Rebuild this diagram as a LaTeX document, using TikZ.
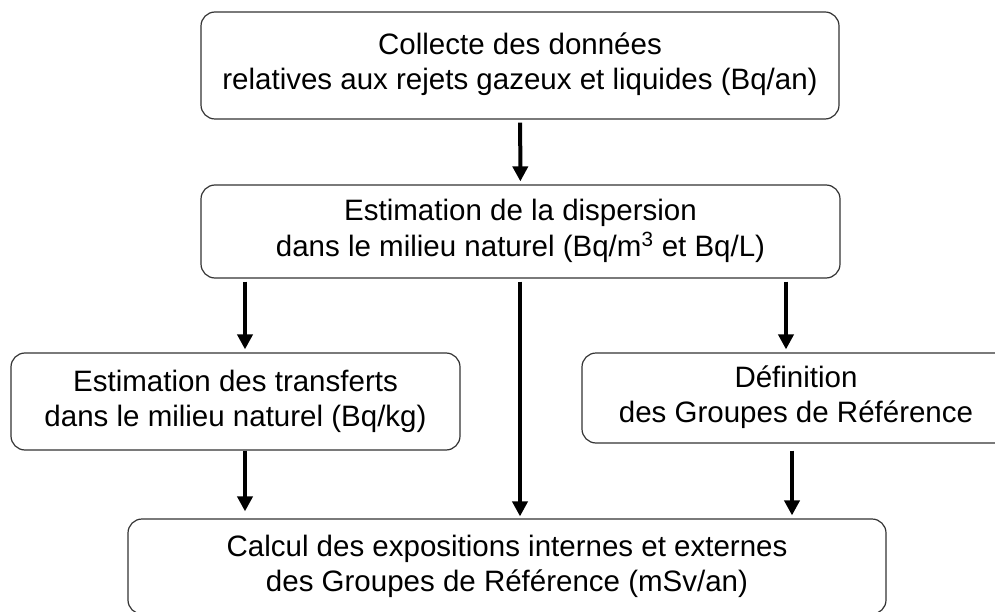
\documentclass[tikz,border=0pt]{standalone}
\usepackage{fontspec}
\setmainfont{Liberation Sans}
\usetikzlibrary{arrows.meta}
\tikzstyle{every node}=[font=\fontsize{29.5}{35}\selectfont]
\tikzstyle{box}=[draw=black!80,line width=1.2pt,rounded corners=14pt,inner sep=0pt]
\tikzstyle{arr}=[line width=4pt,-{Triangle[width=15pt,length=15pt]},shorten <=3pt,shorten >=3pt]
\newcommand{\lignes}[2]{\begin{tabular}{@{}c@{}}#1\end{tabular}\hspace{#2}}

\begin{document}
\begin{tikzpicture}[x=1pt,y=-1pt]
  \useasboundingbox (0,0) rectangle (995,612);
  \clip (0,0) rectangle (995,612);
  \node[box,minimum width=638pt,minimum height=107pt] (collecte) at (520,65.5)
    {\lignes{Collecte des données\\relatives aux rejets gazeux et liquides (Bq/an)}{10pt}};
  \node[box,minimum width=639pt,minimum height=93pt] (dispersion) at (520.5,231.5)
    {\lignes{Estimation de la dispersion\\dans le milieu naturel (Bq/m\textsuperscript{3} et Bq/L)}{12pt}};
  \node[box,minimum width=449pt,minimum height=97pt] (transferts) at (235.5,401.5)
    {\lignes{Estimation des transferts\\dans le milieu naturel (Bq/kg)}{17pt}};
  \node[box,minimum width=428pt,minimum height=90pt] (groupes) at (796,398)
    {\lignes{Définition\\des Groupes de Référence}{20pt}};
  \node[box,minimum width=758pt,minimum height=95pt] (calcul) at (507,566.5)
    {\lignes{Calcul des expositions internes et externes\\des Groupes de Référence (mSv/an)}{18pt}};
  \coordinate (g) at (245,0);
  \coordinate (m) at (520,0);
  \coordinate (d1) at (786,0);
  \coordinate (d2) at (792,0);
  \draw[arr] (collecte) -- (dispersion);
  \draw[arr] (dispersion.south -| g) -- (transferts.north -| g);
  \draw[arr,shorten >=2pt] (dispersion.south -| m) -- (calcul.north -| m);
  \draw[arr] (dispersion.south -| d1) -- (groupes.north -| d1);
  \draw[arr,shorten <=0pt,shorten >=7pt] (transferts.south -| g) -- (calcul.north -| g);
  \draw[arr,shorten <=7pt] (groupes.south -| d2) -- (calcul.north -| d2);
\end{tikzpicture}
\end{document}
